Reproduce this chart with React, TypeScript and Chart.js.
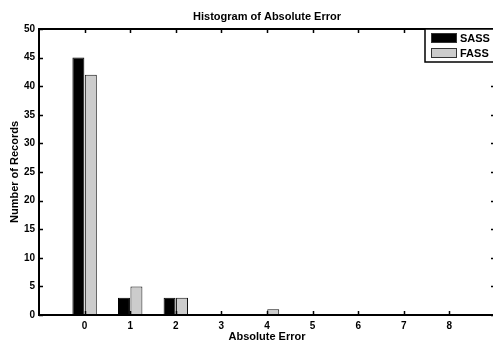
import { useEffect, useRef } from "react";
import { Chart, registerables } from "chart.js";

Chart.register(...registerables);

// Histogram bins (absolute error) and record counts per method
const errorBins = [0, 1, 2, 3, 4, 5, 6, 7, 8];
const sassCounts = [45, 3, 3, 0, 0, 0, 0, 0, 0];
const fassCounts = [42, 5, 3, 0, 1, 0, 0, 0, 0];
const seriesNames = ["SASS", "FASS"];
const yTickStep = 5;
const yMax = 50;

const FONT = "'Liberation Sans', Arial, Helvetica, sans-serif";
const SASS_COLOR = "#000000";
const FASS_COLOR = "#cccccc";

// axis runs one bin beyond each end of the data
const axisLabels = [errorBins[0] - 1, ...errorBins, errorBins[errorBins.length - 1] + 1];
const pad = (arr: number[]) => [null, ...arr, null];

// MATLAB-style boxed axes with inward tick marks
const boxAxesPlugin = {
  id: "boxAxes",
  afterDatasetsDraw(chart: any) {
    const { ctx, chartArea: a, scales } = chart;
    const x = scales.x;
    const y = scales.y;
    ctx.save();
    ctx.strokeStyle = "#000";
    ctx.lineWidth = 1.5;
    const tl = 4;
    ctx.beginPath();
    for (let i = 1; i < axisLabels.length - 1; i++) {
      const px = Math.round(x.getPixelForValue(i)) + 0.5;
      ctx.moveTo(px, a.bottom);
      ctx.lineTo(px, a.bottom - tl);
      ctx.moveTo(px, a.top);
      ctx.lineTo(px, a.top + tl);
    }
    for (let v = 0; v <= yMax; v += yTickStep) {
      const py = Math.round(y.getPixelForValue(v)) + 0.5;
      ctx.moveTo(a.left, py);
      ctx.lineTo(a.left + tl, py);
      ctx.moveTo(a.right, py);
      ctx.lineTo(a.right - tl, py);
    }
    ctx.stroke();
    ctx.lineWidth = 2;
    ctx.strokeRect(a.left, a.top, a.right - a.left, a.bottom - a.top);
    ctx.restore();
  },
};

// boxed legend in the upper-right corner of the axes
const boxLegendPlugin = {
  id: "boxLegend",
  afterDraw(chart: any) {
    const { ctx, chartArea: a } = chart;
    const left = 425;
    const top = a.top;
    const rowH = 15;
    ctx.save();
    ctx.fillStyle = "#fff";
    ctx.strokeStyle = "#000";
    ctx.lineWidth = 1.5;
    ctx.fillRect(left, top, 100, 33);
    ctx.strokeRect(left, top, 100, 33);
    ctx.font = `bold 11px ${FONT}`;
    ctx.textBaseline = "middle";
    chart.data.datasets.forEach((ds: any, i: number) => {
      const sy = top + 4 + i * rowH;
      ctx.fillStyle = ds.backgroundColor;
      ctx.fillRect(431, sy, 26, 10);
      ctx.lineWidth = 1;
      ctx.strokeStyle = "#333";
      ctx.strokeRect(431.5, sy + 0.5, 25, 9);
      ctx.fillStyle = "#000";
      ctx.fillText(ds.label, 460, sy + 5.5);
    });
    ctx.restore();
  },
};

export default function App() {
  const canvasRef = useRef<HTMLCanvasElement | null>(null);

  useEffect(() => {
    document.body.style.margin = "0";
    document.body.style.overflow = "hidden";
    const canvas = canvasRef.current;
    if (!canvas) return;
    const chart = new Chart(canvas, {
      type: "bar",
      data: {
        labels: axisLabels.map(String),
        datasets: [
          {
            label: seriesNames[0],
            data: pad(sassCounts) as any,
            backgroundColor: SASS_COLOR,
            borderColor: "#000",
            borderWidth: 1,
          },
          {
            label: seriesNames[1],
            data: pad(fassCounts) as any,
            backgroundColor: FASS_COLOR,
            borderColor: "#111",
            borderWidth: 1,
          },
        ],
      },
      options: {
        responsive: false,
        animation: false,
        layout: { padding: { left: 0, right: 3.5, top: 0, bottom: 0 } },
        datasets: {
          bar: { categoryPercentage: 0.546, barPercentage: 0.96 },
        },
        plugins: {
          legend: { display: false },
          tooltip: { enabled: false },
          title: {
            display: true,
            text: "Histogram of Absolute Error",
            fullSize: false,
            color: "#000",
            font: { family: FONT, size: 11, weight: "bold" },
            padding: { top: 10, bottom: 5.8 },
          },
        },
        scales: {
          x: {
            type: "category",
            offset: false,
            grid: { display: false, drawTicks: false },
            border: { display: false },
            ticks: {
              color: "#000",
              font: { family: FONT, size: 10, weight: "bold" },
              padding: 5,
              maxRotation: 0,
              autoSkip: false,
              callback: (_v: any, i: number) =>
                i === 0 || i === axisLabels.length - 1 ? "" : String(axisLabels[i]),
            },
            title: {
              display: true,
              text: "Absolute Error",
              color: "#000",
              font: { family: FONT, size: 11, weight: "bold" },
              padding: { top: -2, bottom: -2 },
            },
            afterFit: (s: any) => {
              s.height = 27;
            },
          },
          y: {
            min: 0,
            max: yMax,
            grid: { display: false, drawTicks: false },
            border: { display: false },
            ticks: {
              stepSize: yTickStep,
              color: "#000",
              font: { family: FONT, size: 10, weight: "bold" },
              padding: 4,
            },
            title: {
              display: true,
              text: "Number of Records",
              color: "#000",
              font: { family: FONT, size: 11, weight: "bold" },
              padding: { top: 8, bottom: 0 },
            },
            afterFit: (s: any) => {
              s.width = 39;
            },
          },
        },
      },
      plugins: [boxAxesPlugin, boxLegendPlugin],
    });
    return () => chart.destroy();
  }, []);

  return (
    <div style={{ position: "fixed", left: 0, top: 0, width: 500, height: 342, background: "#fff" }}>
      <canvas ref={canvasRef} width={500} height={342} />
    </div>
  );
}
